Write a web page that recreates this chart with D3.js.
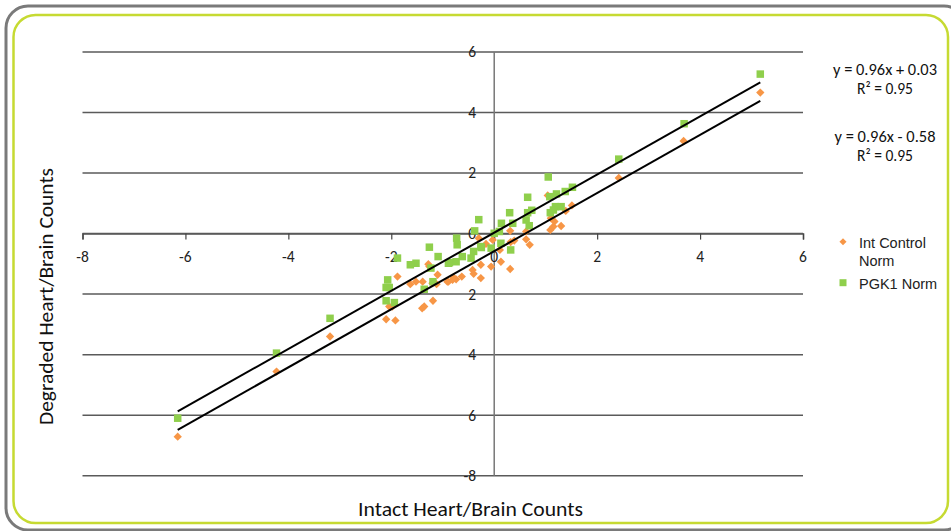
<!DOCTYPE html>
<html><head><meta charset="utf-8">
<script src="https://cdn.jsdelivr.net/npm/d3@7"></script>
<style>
html,body{margin:0;padding:0;background:#fff;}
svg{display:block;}
</style></head>
<body>
<svg id="chart" width="951" height="531"></svg>
<script>
// ---- data ----
const xTicks = [-8, -6, -4, -2, 0, 2, 4, 6];
const yTicks = [-8, -6, -4, -2, 0, 2, 4, 6];
const xTickLabels = ["-8", "-6", "-4", "-2", "0", "2", "4", "6"];
const yTickLabels = ["-8", "6", "4", "2", "0", "2", "4", "6"];

const intControlNorm = [
  [-6.15,-6.71],[-4.23,-4.56],[-3.19,-3.40],[5.17,4.66],[3.68,3.06],[2.42,1.84],
  [1.04,1.26],[1.10,0.51],[1.17,0.40],[1.09,0.12],[1.15,0.23],[1.30,0.25],[1.39,0.75],[1.51,0.93],
  [0.62,0.07],[0.31,0.09],[0.62,-0.19],[0.69,-0.37],[0.39,-0.23],[0.32,-0.28],[0.11,-0.54],
  [0.31,-1.17],[0.13,-0.93],[-0.06,-1.09],[-0.26,-1.47],[-0.26,-1.03],[-0.30,-0.15],[-0.16,-0.34],
  [-0.03,-0.21],[-0.42,-1.20],[-0.40,-1.33],[-0.63,-1.42],[-0.74,-1.51],[-0.79,-1.45],[-0.91,-1.59],
  [-1.10,-1.36],[-1.26,-1.09],[-1.12,-1.67],[-1.39,-1.59],[-1.52,-1.59],[-1.63,-1.67],[-1.88,-1.42],
  [-2.04,-2.41],[-1.98,-2.41],[-1.36,-2.41],[-1.40,-2.47],[-1.19,-2.22],[-2.10,-2.83],[-1.92,-2.87],
  [-0.89,-1.59],[-0.81,-1.53],[-1.28,-1.01],[-1.20,-1.64]
];
const pgk1Norm = [
  [-6.15,-6.10],[-4.23,-3.95],[-3.19,-2.80],[5.17,5.27],[3.69,3.63],[2.42,2.46],[1.05,1.87],
  [0.65,1.20],[0.30,0.69],[0.65,0.69],[0.73,0.77],[1.08,1.22],[1.21,1.31],[1.38,1.39],[1.52,1.53],
  [1.09,0.69],[1.19,0.89],[1.30,0.89],[1.15,0.78],[0.14,0.34],[0.36,0.34],[0.62,0.45],[0.68,0.26],
  [0.00,0.01],[0.10,0.07],[0.13,-0.32],[-0.06,-0.48],[0.32,-0.54],[-0.30,0.46],[-0.26,-0.43],
  [-0.73,-0.15],[-0.72,-0.37],[-0.38,0.09],[-0.40,-0.59],[-0.25,-0.46],[-0.45,-0.81],[-0.62,-0.76],
  [-0.74,-0.93],[-0.87,-0.96],[-1.09,-0.76],[-1.26,-0.45],[-1.52,-0.98],[-1.63,-1.03],[-1.88,-0.81],
  [-2.07,-1.53],[-2.10,-1.78],[-2.04,-1.78],[-2.10,-2.22],[-1.94,-2.28],[-1.36,-1.84],[-1.19,-1.59],
  [-1.23,-1.14],[-0.89,-0.98]
];
const trendSlopes = [0.96, 0.96];
const trendIntercepts = [0.03, -0.58];
const trendRange = [-6.15, 5.17];
const equationLabels = [["y = 0.96x + 0.03", "R\u00B2 = 0.95"], ["y = 0.96x - 0.58", "R\u00B2 = 0.95"]];
const seriesNames = [["Int Control", "Norm"], ["PGK1 Norm"]];

// ---- drawing ----
const svg = d3.select("#chart");
const calibri = "Carlito, 'Liberation Sans Narrow', 'Open Sans', sans-serif";
const arial = "'Liberation Sans', Arial, sans-serif";
const orange = "#f79646", green = "#8fcf4c";

// frames
svg.append("rect").attr("x", 6).attr("y", 6).attr("width", 960).attr("height", 524)
  .attr("rx", 22).attr("fill", "none").attr("stroke", "#7a7a7a").attr("stroke-width", 3);
svg.append("rect").attr("x", 13.5).attr("y", 15).attr("width", 934.5).attr("height", 508)
  .attr("rx", 22).attr("fill", "none").attr("stroke", "#c6da32").attr("stroke-width", 2.5);

const x = d3.scaleLinear().domain([-8, 6]).range([82.5, 803]);
const y = d3.scaleLinear().domain([-8, 6]).range([475.7, 52]);

// horizontal gridlines
svg.append("g").selectAll("line").data(yTicks).join("line")
  .attr("x1", x(-8)).attr("x2", x(6))
  .attr("y1", d => y(d)).attr("y2", d => y(d))
  .attr("stroke", "#5a5a5a").attr("stroke-width", 1.5);

// y axis (vertical at x=0)
svg.append("line").attr("x1", x(0)).attr("x2", x(0)).attr("y1", y(6)).attr("y2", y(-8))
  .attr("stroke", "#777").attr("stroke-width", 1.5);

// x axis with ticks down
const xAxis = d3.axisBottom(x).tickValues(xTicks).tickSize(6).tickFormat(() => "");
const gx = svg.append("g").attr("transform", `translate(0,${y(0)})`).call(xAxis);
gx.select(".domain").attr("stroke", "#5a5a5a").attr("stroke-width", 1.5);
gx.selectAll(".tick line").attr("stroke", "#444").attr("stroke-width", 1.2);

// x tick labels
svg.append("g").selectAll("text").data(xTicks).join("text")
  .attr("x", d => x(d)).attr("y", y(0) + 28.5)
  .attr("text-anchor", "middle")
  .attr("font-family", calibri).attr("font-size", 15.5).attr("fill", "#222")
  .text((d, i) => xTickLabels[i]);

// y tick labels
svg.append("g").selectAll("text").data(yTicks).join("text")
  .attr("x", x(0) - 18).attr("y", d => y(d)).attr("dy", "0.35em")
  .attr("text-anchor", "end")
  .attr("font-family", calibri).attr("font-size", 15.5).attr("fill", "#222")
  .text((d, i) => yTickLabels[i]);

// points: orange diamonds
const diamond = d3.symbol().type(d3.symbolDiamond2).size(44);
svg.append("g").selectAll("path").data(intControlNorm).join("path")
  .attr("d", diamond)
  .attr("transform", d => `translate(${x(d[0])},${y(d[1])})`)
  .attr("fill", orange);

// green squares
const sq = 7.5;
svg.append("g").selectAll("rect").data(pgk1Norm).join("rect")
  .attr("x", d => x(d[0]) - sq / 2).attr("y", d => y(d[1]) - sq / 2)
  .attr("width", sq).attr("height", sq).attr("fill", green);

// trend lines
const line = d3.line().x(d => x(d[0])).y(d => y(d[1]));
trendSlopes.forEach((m, i) => {
  const b = trendIntercepts[i];
  const pts = trendRange.map(v => [v, m * v + b]);
  svg.append("path").attr("d", line(pts)).attr("fill", "none")
    .attr("stroke", "#000").attr("stroke-width", 2);
});

// equations
const eqY = [69.5, 136.5];
const eqLen = [[104, 56], [101, 56]];
equationLabels.forEach((lines, i) => {
  lines.forEach((t, j) => {
    svg.append("text").attr("x", 885).attr("y", eqY[i] + j * 19.5).attr("dy", "0.35em")
      .attr("text-anchor", "middle").attr("font-family", calibri).attr("font-size", 15.5)
      .attr("textLength", eqLen[i][j]).attr("lengthAdjust", "spacingAndGlyphs")
      .attr("fill", "#111").text(t);
  });
});

// legend
svg.append("path").attr("d", d3.symbol().type(d3.symbolDiamond2).size(32)())
  .attr("transform", "translate(843,241.7)").attr("fill", orange);
seriesNames[0].forEach((t, j) => {
  svg.append("text").attr("x", 859).attr("y", 242.5 + j * 18).attr("dy", "0.35em")
    .attr("font-family", arial).attr("font-size", 14.5).attr("fill", "#222").text(t);
});
svg.append("rect").attr("x", 843 - 3.5).attr("y", 282.7 - 3.5).attr("width", 7).attr("height", 7)
  .attr("fill", green);
svg.append("text").attr("x", 859).attr("y", 283.5).attr("dy", "0.35em")
  .attr("font-family", arial).attr("font-size", 14.5).attr("fill", "#222").text(seriesNames[1][0]);

// axis titles
svg.append("text").attr("x", 470.5).attr("y", 509).attr("dy", "0.35em")
  .attr("text-anchor", "middle").attr("font-family", calibri).attr("font-size", 19.5)
  .attr("textLength", 225).attr("lengthAdjust", "spacingAndGlyphs")
  .attr("fill", "#111").text("Intact Heart/Brain Counts");
svg.append("text").attr("transform", "translate(46,296.5) rotate(-90)").attr("dy", "0.35em")
  .attr("text-anchor", "middle").attr("font-family", calibri).attr("font-size", 19.5)
  .attr("textLength", 257).attr("lengthAdjust", "spacingAndGlyphs")
  .attr("fill", "#111").text("Degraded Heart/Brain Counts");
</script>
</body></html>
